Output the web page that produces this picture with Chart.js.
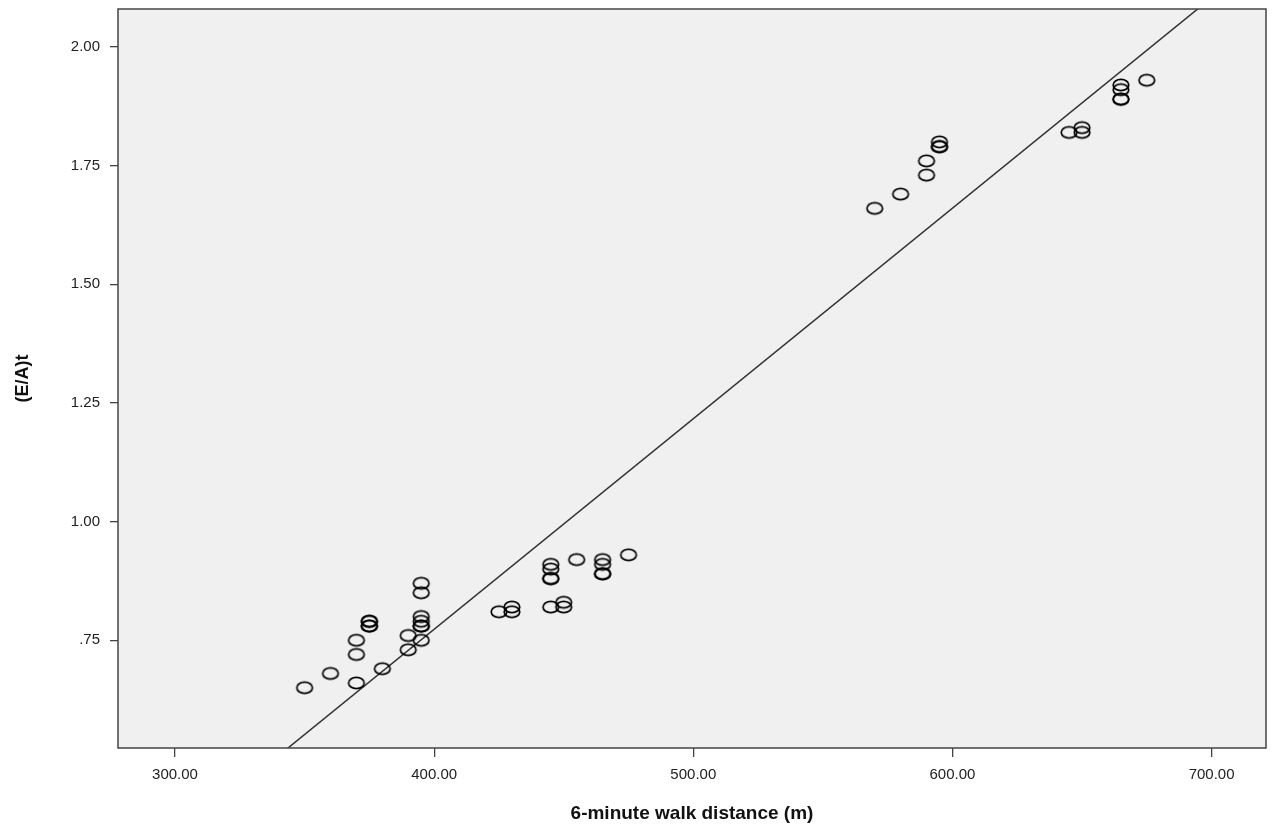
<!DOCTYPE html>
<html>
<head>
<meta charset="utf-8">
<script src="https://cdn.jsdelivr.net/npm/chart.js@4.4.0/dist/chart.umd.min.js"></script>
<style>
    html, body { margin: 0; padding: 0; background: #fff; overflow: hidden; }
    #scatter { display: block; }
</style>
</head>
<body>
<canvas id="scatter" width="1275" height="829"></canvas>
<script>
/* ---------------- Data ---------------- */
const walkDistance = [
    350, 360, 370, 370, 370, 375, 375, 375, 375, 380,
    390, 390, 395, 395, 395, 395, 395, 395, 395,
    425, 430, 430, 445, 445, 445, 445, 445, 450, 450,
    455, 465, 465, 465, 465, 475,
    570, 580, 590, 590, 595, 595, 595,
    645, 650, 650, 665, 665, 665, 665, 675
];
const eaRatio = [
    0.65, 0.68, 0.75, 0.72, 0.66, 0.78, 0.78, 0.79, 0.79, 0.69,
    0.76, 0.73, 0.87, 0.85, 0.80, 0.79, 0.78, 0.78, 0.75,
    0.81, 0.82, 0.81, 0.82, 0.91, 0.90, 0.88, 0.88, 0.83, 0.82,
    0.92, 0.92, 0.91, 0.89, 0.89, 0.93,
    1.66, 1.69, 1.73, 1.76, 1.80, 1.79, 1.79,
    1.82, 1.83, 1.82, 1.92, 1.91, 1.89, 1.89, 1.93
];

// fit line end points
const fitX = [278, 721];
const fitY = [0.232, 2.197];

const xTicks = [300, 400, 500, 600, 700];
const yTicks = [0.75, 1.00, 1.25, 1.50, 1.75, 2.00];

/* ---------------- Marker ---------------- */
function ellipseMarker() {
    const c = document.createElement("canvas");
    c.width = 20;
    c.height = 16;
    const g = c.getContext("2d");
    g.strokeStyle = "#000";
    g.lineWidth = 1.7;
    g.beginPath();
    g.ellipse(10, 8, 7.8, 5.6, 0, 0, Math.PI * 2);
    g.stroke();
    return c;
}

/* ---------------- Plot box ---------------- */
const plotBox = {
    id: "plotBox",
    beforeDraw(chart) {
        const { ctx, chartArea: a } = chart;
        ctx.save();
        ctx.fillStyle = "#f0f0f0";
        ctx.fillRect(a.left, a.top, a.right - a.left, a.bottom - a.top);
        ctx.restore();
    },
    afterDraw(chart) {
        const { ctx, chartArea: a } = chart;
        ctx.save();
        ctx.strokeStyle = "#444";
        ctx.lineWidth = 1.5;
        ctx.strokeRect(a.left, a.top, a.right - a.left, a.bottom - a.top);
        ctx.restore();
    }
};

const fmtY = v => {
    const s = v.toFixed(2);
    return s.startsWith("0") ? s.slice(1) : s;
};

new Chart(document.getElementById("scatter"), {
    type: "scatter",
    data: {
        datasets: [
            {
                label: "(E/A)t",
                data: walkDistance.map((x, i) => ({ x, y: eaRatio[i] })),
                pointStyle: ellipseMarker(),
                pointRadius: 8
            },
            {
                type: "line",
                label: "Fit",
                data: fitX.map((x, i) => ({ x, y: fitY[i] })),
                borderColor: "#333",
                borderWidth: 1.5,
                pointRadius: 0,
                fill: false
            }
        ]
    },
    options: {
        responsive: false,
        animation: false,
        devicePixelRatio: 1,
        layout: { padding: { top: 8, right: 7, left: 0, bottom: 0 } },
        plugins: {
            legend: { display: false },
            tooltip: { enabled: false }
        },
        scales: {
            x: {
                type: "linear",
                min: 278,
                max: 721,
                afterBuildTicks: s => { s.ticks = xTicks.map(v => ({ value: v })); },
                afterFit: s => { s.height = 81; s.paddingLeft = 0; s.paddingRight = 0; },
                border: { display: false },
                grid: { drawOnChartArea: false, drawTicks: true, tickLength: 9, color: "#444", lineWidth: 1.3 },
                ticks: {
                    color: "#222",
                    padding: 9,
                    maxRotation: 0,
                    font: { family: "Liberation Sans, Arial", size: 15 },
                    callback: v => v.toFixed(2)
                },
                title: {
                    display: true,
                    text: "6-minute walk distance (m)",
                    color: "#111",
                    padding: { top: 10 },
                    font: { family: "Liberation Sans, Arial", size: 19, weight: "bold" }
                }
            },
            y: {
                type: "linear",
                min: 0.523,
                max: 2.08,
                afterBuildTicks: s => { s.ticks = yTicks.map(v => ({ value: v })); },
                afterFit: s => { s.width = 118; s.paddingTop = 0; s.paddingBottom = 0; },
                border: { display: false },
                grid: { drawOnChartArea: false, drawTicks: true, tickLength: 8, color: "#444", lineWidth: 1.3 },
                ticks: {
                    color: "#222",
                    padding: 10,
                    font: { family: "Liberation Sans, Arial", size: 15 },
                    callback: v => fmtY(v)
                },
                title: {
                    display: true,
                    text: "(E/A)t",
                    color: "#111",
                    padding: { top: 12, bottom: 4 },
                    font: { family: "Liberation Sans, Arial", size: 18, weight: "bold" }
                }
            }
        }
    },
    plugins: [plotBox]
});
</script>
</body>
</html>
